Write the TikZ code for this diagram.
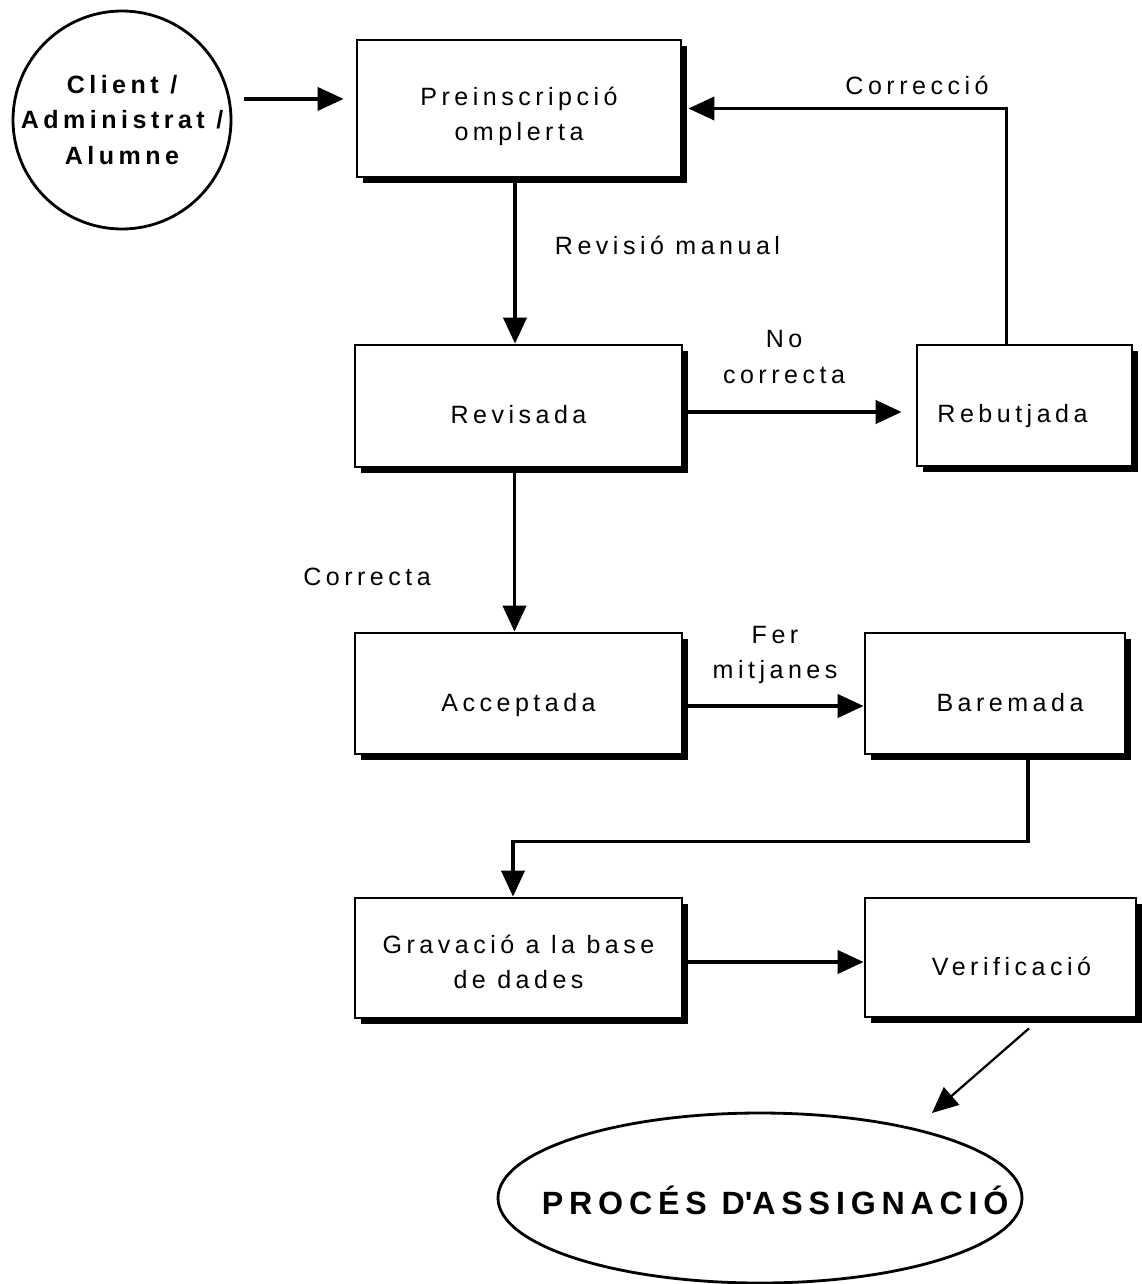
\documentclass[tikz,border=0pt]{standalone}
\usepackage{fontspec}
\setmainfont{Liberation Sans}[LetterSpace=18]
\usetikzlibrary{arrows.meta,shadows,shapes.geometric}
\tikzset{%
  state/.style  = {shape=rectangle, draw, line width=2pt, fill=white,%
                   align=center, inner sep=0pt, lift=1.25cm,%
                   drop shadow={shadow xshift=0.15cm, shadow yshift=-0.15cm,%
                                fill=black, opacity=1}},%
  lift/.style   = {execute at begin node={\rule[-0.3em]{0pt}{#1}}},%
  actor/.style  = {shape=circle, draw, line width=2pt, inner sep=0pt,%
                   minimum size=5.45cm},%
  goal/.style   = {shape=ellipse, draw, line width=2pt, inner sep=0pt,%
                   minimum width=13.1cm, minimum height=4.25cm},%
  bold/.style   = {font=\bfseries\fontsize{17.8}{25}\selectfont, align=center},%
  flow/.style   = {line width=2.4pt, -{Triangle[length=0.65cm,width=0.58cm]}}%
}

\begin{document}
\begin{tikzpicture}[every node/.style = {font=\fontsize{17.8}{25}\selectfont, align=center}]
	\useasboundingbox (0,0) rectangle (28.55,-32.1);
	\node [actor, label={[bold]center:Client /\\Administrat /\\Alumne}] (client) at (3.05,-3) {};
	\node [state, lift=2cm, minimum width=8.1cm, minimum height=3.425cm] (pre) at (12.975,-2.7125) {Preinscripció\\omplerta};
	\node [state, minimum width=8.175cm, minimum height=3.05cm] (rev) at (12.9625,-10.15) {Revisada};
	\node [state, minimum width=5.375cm, minimum height=3.025cm] (reb) at (25.6125,-10.1375) {Rebutjada\hspace*{0.6cm}};
	\node [state, minimum width=8.175cm, minimum height=3.025cm] (acc) at (12.9625,-17.3375) {Acceptada};
	\node [state, minimum width=6.5cm, minimum height=3.025cm] (bar) at (24.875,-17.3375) {\hspace*{0.75cm}Baremada};
	\node [state, lift=1.9cm, minimum width=8.175cm, minimum height=3cm] (grav) at (12.9625,-23.95) {Gravació a la base\\de dades};
	\node [state, minimum width=6.775cm, minimum height=2.975cm] (ver) at (25.0125,-23.9375) {\hspace*{0.55cm}Verificació};
	\node [goal, label={[bold, font=\bfseries\fontsize{22.9}{25}\selectfont, xshift=0.38cm, yshift=-0.05cm]center:PROCÉS D\textquotesingle ASSIGNACIÓ}] (proc) at (19,-29.95) {};

	\node [anchor=west] (lrevisio) at (13.75,-6.125) {Revisió manual};
	\node (lnocorr) at (19.6,-8.925) {No\\correcta};
	\node (lcorreccio) at (22.925,-2.125) {Correcció};
	\node (lcorrecta) at (9.175,-14.425) {Correcta};
	\node (lmitjanes) at (19.375,-16.375) {Fer\\mitjanes};

	\draw [flow, shorten <=0.33cm, shorten >=0.3cm] (client.11.6) -- (client.11.6 -| pre.west);
	\draw [flow] ([xshift=-0.1cm]pre.south) -- ([xshift=-0.1cm]pre.south |- rev.north);
	\draw [flow, shorten >=0.35cm] ([yshift=-0.15cm]rev.east) -- ([yshift=-0.15cm]rev.east -| reb.west);
	\draw [flow] ([xshift=-0.45cm]reb.north) |- ([xshift=0.15cm]pre.east);
	\draw [flow] ([xshift=-0.1cm]rev.south) -- ([xshift=-0.1cm]rev.south |- acc.north);
	\draw [flow] ([yshift=-0.3125cm]acc.east) -- ([yshift=-0.3125cm]acc.east -| bar.west);
	\draw [flow] ([xshift=0.825cm]bar.south) -- ++(0,-2.15) -| ([xshift=-0.1375cm]grav.north);
	\draw [flow] ([yshift=-0.1cm]grav.east) -- ([yshift=-0.1cm]grav.east -| ver.west);
	\draw [flow, line width=1.6pt] ([shift={(0.7125,-0.25)}]ver.south) -- ([shift={(4.3,2.125)}]proc.center);
\end{tikzpicture}
\end{document}
